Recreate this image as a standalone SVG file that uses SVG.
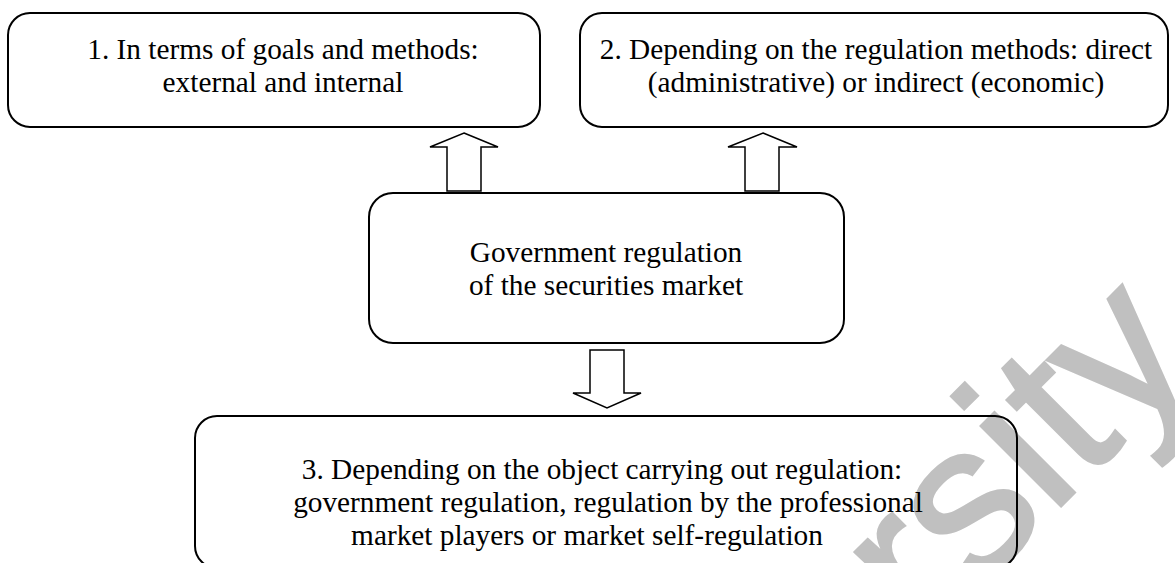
<svg xmlns="http://www.w3.org/2000/svg" width="1175" height="563" viewBox="0 0 1175 563">
<style>
.box{fill:none;stroke:#000;stroke-width:2}
.arr{fill:#fff;stroke:#000;stroke-width:1.5;stroke-linejoin:miter}
.t{font-family:"Liberation Serif","Times New Roman",serif;font-size:29.3px;fill:#000;text-anchor:middle}
.wm{font-family:"Liberation Sans",Arial,sans-serif;font-size:214px;fill:#c0c0c0;stroke:#c0c0c0;stroke-width:3}
</style>
<rect width="1175" height="563" fill="#fff"/>
<text class="wm" transform="translate(925,642) rotate(-45)">rsity</text>
<g id="node1">
<rect class="box" x="8" y="13" width="532" height="114" rx="22"/>
<text class="t" x="283" y="59">1. In terms of goals and methods:</text>
<text class="t" x="283" y="92">external and internal</text>
</g>
<g id="node2">
<rect class="box" x="580" y="13" width="588" height="114" rx="22"/>
<text class="t" x="876" y="59">2. Depending on the regulation methods: direct</text>
<text class="t" x="876" y="92">(administrative) or indirect (economic)</text>
</g>
<g id="center">
<rect class="box" x="369" y="193" width="475" height="150" rx="24"/>
<text class="t" x="606" y="262">Government regulation</text>
<text class="t" x="606" y="295">of the securities market</text>
</g>
<g id="node3">
<rect class="box" x="195" y="416" width="822" height="152" rx="22"/>
<text class="t" x="602" y="479">3. Depending on the object carrying out regulation:</text>
<text class="t" x="608" y="512">government regulation, regulation by the professional</text>
<text class="t" x="587" y="545">market players or market self-regulation</text>
</g>
<g id="connectors">
<polygon class="arr" points="464,133 498,147 481,147 481,191 447,191 447,147 430,147"/>
<polygon class="arr" points="763,133 797,147 779,147 779,191 745,191 745,147 728,147"/>
<polygon class="arr" points="590,350 624,350 624,393 641,393 607,408 573,393 590,393"/>
</g>
</svg>
